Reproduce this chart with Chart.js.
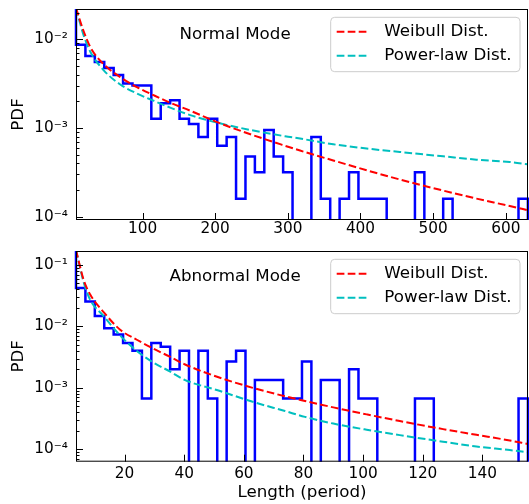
<!DOCTYPE html>
<html>
<head>
<meta charset="utf-8">
<script src="https://cdn.jsdelivr.net/npm/chart.js@4.4.0/dist/chart.umd.min.js"></script>
<style>
  html, body { margin: 0; padding: 0; background: #fff; }
  #wrap { position: relative; width: 529px; height: 504px; overflow: hidden; }
  canvas { position: absolute; left: 0; }
  #normalChart { top: 0; }
  #abnormalChart { top: 245px; }
</style>
</head>
<body>
<div id="wrap">
  <canvas id="normalChart" width="529" height="245"></canvas>
  <canvas id="abnormalChart" width="529" height="259"></canvas>
</div>
<script>
// ---------- values ----------
const curveNames = ['Weibull Dist.', 'Power-law Dist.'];
const modeTitles = ['Normal Mode', 'Abnormal Mode'];

// Normal mode: histogram (first entry is the bin left of the axis, above the top)
const normalBinStart = 8.4;
const normalBinWidth = 12.96;
const normalPdf = [0.03,
  0.00872, 0.00650, 0.00555, 0.00476, 0.00396, 0.00317, 0.00301, 0.00301, 0.00127, 0.00190,
  0.00206, 0.00127, 0.00111, 0.00079, 0.00127, 0.00063, 0.00079, 0.000159, 0.000476, 0.000317,
  0.000951, 0.000476, 0.000317, 0, 0, 0.00079, 0.000159, 0, 0.000159, 0.000317,
  0.000159, 0.000159, 0.000159, 0, 0, 0, 0.000317, 0, 0, 0.000159,
  0, 0, 0, 0, 0, 0, 0, 0.000159];
const normalCurveX = [8.4, 18.8, 28.1, 46.3, 69.3, 92.3, 115.1, 138.0, 165.5, 204.4,
  250.4, 296.1, 316.8, 362.5, 408.5, 454.2, 513.8, 559.7, 605.5, 630.6];
const normalWeibull = [0.0226, 0.01242, 0.00818, 0.00526, 0.00375, 0.00289, 0.00235, 0.00193, 0.00157, 0.00115,
  0.00084, 0.000631, 0.000557, 0.000431, 0.000334, 0.000263, 0.000197, 0.00016, 0.000132, 0.000118];
const normalPowerLaw = [0.0225, 0.01118, 0.00724, 0.0045, 0.0031, 0.00245, 0.002035, 0.0017, 0.0014, 0.00114,
  0.000944, 0.000808, 0.000761, 0.000656, 0.000587, 0.000537, 0.00048, 0.00044, 0.000414, 0.00039];
const normalXTicks = [100, 200, 300, 400, 500, 600];
const normalXRange = [8.4, 630.6];
const normalYRange = [9.18e-5, 0.0220];

// Abnormal mode
const abnormalBinStart = 3.7;
const abnormalBinWidth = 3.158;
const abnormalPdf = [0.2,
  0.0422, 0.0255, 0.01474, 0.00938, 0.00737, 0.00536, 0.00402, 0.00067, 0.00536, 0.00469,
  0.00201, 0.00402, 0, 0.00402, 0.00067, 0, 0.00268, 0.00402, 0, 0.00134,
  0.00134, 0.00134, 0.00067, 0.00067, 0.00268, 0, 0.00134, 0.00134, 0, 0.00201,
  0.00067, 0.00067, 0, 0, 0, 0, 0.00067, 0.00067, 0, 0,
  0, 0, 0, 0, 0, 0, 0, 0.00067];
const abnormalCurveX = [3.7, 6.25, 8.5, 12.95, 18.5, 24.1, 29.7, 35.3, 40.3, 51.5,
  62.7, 73.8, 80.5, 90.0, 101.2, 112.3, 126.8, 138.0, 149.2, 155.3];
const abnormalWeibull = [0.175, 0.0576, 0.0328, 0.01716, 0.00884, 0.00607, 0.00433, 0.00319, 0.0024, 0.00149,
  0.00101, 0.00073, 0.000612, 0.000481, 0.00037, 0.000288, 0.000213, 0.000172, 0.000139, 0.000122];
const abnormalPowerLaw = [0.175, 0.0528, 0.0269, 0.01477, 0.00711, 0.00398, 0.00258, 0.00184, 0.00134, 0.000904,
  0.000598, 0.000419, 0.000337, 0.000262, 0.000208, 0.00017, 0.000133, 0.000111, 0.000097, 0.000089];
const abnormalXTicks = [20, 40, 60, 80, 100, 120, 140];
const abnormalXRange = [3.7, 155.3];
const abnormalYRange = [6.28e-5, 0.169];

// ---------- helpers ----------
Chart.defaults.font.family = 'DejaVu Sans';
Chart.defaults.color = '#000';

const SUP = {'-': '\u207B', '0': '\u2070', '1': '\u00B9', '2': '\u00B2', '3': '\u00B3', '4': '\u2074', '5': '\u2075'};
function powLabel(v) {
  const e = Math.round(Math.log10(v));
  return '10' + String(e).split('').map(c => SUP[c]).join('');
}

// step outline of a histogram; empty bins go far below the axis like matplotlib's log clip
function stepPoints(binStart, binWidth, pdf) {
  const pts = pdf.map((v, i) => ({x: binStart + (i - 1) * binWidth, y: v > 0 ? v : 1e-12}));
  pts.push({x: binStart + (pdf.length - 1) * binWidth, y: 1e-12});
  return pts;
}

function curve(xs, ys) {
  return xs.map((x, i) => ({x: x, y: ys[i]}));
}

function logTicks(min, max) {
  const out = [];
  for (let e = Math.floor(Math.log10(min)); e <= Math.ceil(Math.log10(max)); e++) {
    for (let m = 1; m <= 9; m++) {
      const v = m * Math.pow(10, e);
      if (v >= min && v <= max) out.push({value: v, major: m === 1});
    }
  }
  return out;
}

// axes frame and inward ticks, as in the matplotlib original
const frameTicks = {
  id: 'frameTicks',
  afterDatasetsDraw(chart) {
    const {ctx, chartArea: a, scales: {x, y}} = chart;
    ctx.save();
    ctx.strokeStyle = '#000';
    ctx.lineWidth = 1;
    ctx.beginPath();
    x.ticks.forEach(t => {
      const px = Math.round(x.getPixelForValue(t.value)) + 0.5;
      ctx.moveTo(px, a.bottom);
      ctx.lineTo(px, a.bottom - 7);
    });
    y.ticks.forEach(t => {
      const py = Math.round(y.getPixelForValue(t.value)) + 0.5;
      ctx.moveTo(a.left, py);
      ctx.lineTo(a.left + (t.major ? 7 : 3.5), py);
    });
    ctx.stroke();
    ctx.strokeRect(a.left + 0.5, a.top + 0.5, a.width - 1, a.height - 1);
    ctx.restore();
  }
};

// mode label and framed legend in the upper right
const annotations = {
  id: 'annotations',
  afterDraw(chart, args, opts) {
    const {ctx, chartArea: a} = chart;
    ctx.save();
    ctx.font = '16.7px "DejaVu Sans"';
    ctx.fillStyle = '#000';
    ctx.textAlign = 'center';
    ctx.textBaseline = 'middle';
    ctx.fillText(opts.title, a.left + 0.352 * a.width, a.bottom - 0.88 * a.height);

    const w = 189.3, h = 54.4, r = 4;
    const bx = a.right - 8 - w, by = a.top + 8.3;
    ctx.beginPath();
    ctx.moveTo(bx + r, by);
    ctx.lineTo(bx + w - r, by);
    ctx.quadraticCurveTo(bx + w, by, bx + w, by + r);
    ctx.lineTo(bx + w, by + h - r);
    ctx.quadraticCurveTo(bx + w, by + h, bx + w - r, by + h);
    ctx.lineTo(bx + r, by + h);
    ctx.quadraticCurveTo(bx, by + h, bx, by + h - r);
    ctx.lineTo(bx, by + r);
    ctx.quadraticCurveTo(bx, by, bx + r, by);
    ctx.closePath();
    ctx.fillStyle = 'rgba(255,255,255,0.8)';
    ctx.fill();
    ctx.strokeStyle = '#cccccc';
    ctx.lineWidth = 1;
    ctx.stroke();

    const items = chart.data.datasets.filter(d => d.label);
    items.forEach((d, i) => {
      const yy = by + 14.4 + i * 24;
      ctx.beginPath();
      ctx.setLineDash(d.borderDash || []);
      ctx.strokeStyle = d.borderColor;
      ctx.lineWidth = d.borderWidth;
      ctx.moveTo(bx + 6, yy);
      ctx.lineTo(bx + 39, yy);
      ctx.stroke();
      ctx.setLineDash([]);
      ctx.fillStyle = '#000';
      ctx.textAlign = 'left';
      ctx.fillText(d.label, bx + 53.6, yy);
    });
    ctx.restore();
  }
};

function makeChart(id, cfg) {
  const datasets = [
    {label: curveNames[0], data: curve(cfg.curveX, cfg.weibull), borderColor: '#ff0000',
     borderDash: [7.7, 3.3], borderWidth: 2, pointRadius: 0, fill: false,
     cubicInterpolationMode: 'monotone', order: 1, clip: 0},
    {label: curveNames[1], data: curve(cfg.curveX, cfg.power), borderColor: '#00bfbf',
     borderDash: [7.7, 3.3], borderWidth: 2, pointRadius: 0, fill: false,
     cubicInterpolationMode: 'monotone', order: 2, clip: 0},
    {label: '', data: stepPoints(cfg.binStart, cfg.binWidth, cfg.pdf), borderColor: '#0000ff',
     borderWidth: 2.5, pointRadius: 0, fill: false, stepped: true, order: 3,
     clip: {left: 2, right: 2, top: 0, bottom: 0}}
  ];
  return new Chart(document.getElementById(id), {
    type: 'line',
    data: {datasets: datasets},
    plugins: [frameTicks, annotations],
    options: {
      responsive: false,
      animation: false,
      events: [],
      layout: {padding: {left: 0, right: 1, top: cfg.padTop, bottom: 0}},
      plugins: {
        legend: {display: false},
        tooltip: {enabled: false},
        annotations: {title: cfg.title}
      },
      scales: {
        x: {
          type: 'linear',
          min: cfg.xRange[0],
          max: cfg.xRange[1],
          grid: {display: false, drawTicks: false},
          border: {display: false},
          afterBuildTicks: s => { s.ticks = cfg.xTicks.map(v => ({value: v})); },
          afterFit: s => { s.height = cfg.xHeight; s.paddingLeft = 0; s.paddingRight = 0; },
          ticks: {font: {size: 15.3}, padding: cfg.xTickPad, maxRotation: 0, autoSkip: false},
          title: cfg.xTitle ? {display: true, text: cfg.xTitle, font: {size: 16.7},
                               padding: {top: 0, bottom: 1}} : {display: false}
        },
        y: {
          type: 'logarithmic',
          min: cfg.yRange[0],
          max: cfg.yRange[1],
          grid: {display: false, drawTicks: false},
          border: {display: false},
          afterBuildTicks: s => { s.ticks = logTicks(cfg.yRange[0], cfg.yRange[1]); },
          afterFit: s => { s.width = 76; s.paddingTop = 0; s.paddingBottom = 0; },
          ticks: {font: {size: 15.3}, padding: 8, autoSkip: false,
                  callback: function(v, i, ticks) { return ticks[i].major ? powLabel(v) : ''; }},
          title: {display: true, text: 'PDF', font: {size: 16.7}, padding: {top: 9, bottom: 0}}
        }
      }
    }
  });
}

makeChart('normalChart', {
  title: modeTitles[0], pdf: normalPdf, binStart: normalBinStart, binWidth: normalBinWidth,
  curveX: normalCurveX, weibull: normalWeibull, power: normalPowerLaw,
  xTicks: normalXTicks, xRange: normalXRange, yRange: normalYRange,
  padTop: 9, xHeight: 25, xTickPad: 0, xTitle: null
});

makeChart('abnormalChart', {
  title: modeTitles[1], pdf: abnormalPdf, binStart: abnormalBinStart, binWidth: abnormalBinWidth,
  curveX: abnormalCurveX, weibull: abnormalWeibull, power: abnormalPowerLaw,
  xTicks: abnormalXTicks, xRange: abnormalXRange, yRange: abnormalYRange,
  padTop: 6, xHeight: 42.3, xTickPad: 3, xTitle: 'Length (period)'
});
</script>
</body>
</html>
